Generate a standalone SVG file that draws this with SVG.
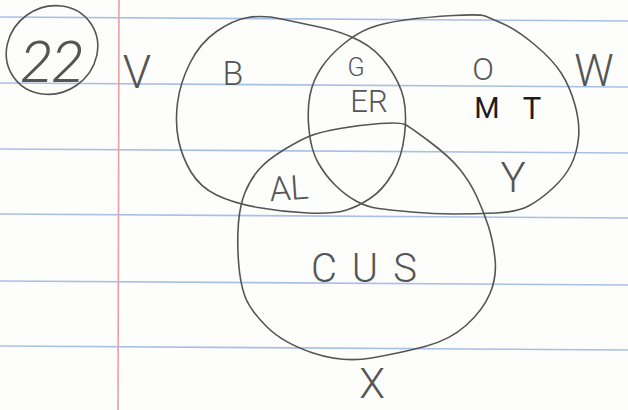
<svg xmlns="http://www.w3.org/2000/svg" width="628" height="410" viewBox="0 0 628 410">
<style>
.rule{stroke:#a9c0e6;stroke-width:1.6;fill:none}
.margin{stroke:#ec9ea6;stroke-width:1.6;fill:none}
.set{fill:none;stroke:#555;stroke-width:1.6;stroke-linejoin:round}
.lbl{font-family:Roboto,"Liberation Sans",sans-serif;font-weight:300;fill:#555;text-anchor:middle}
.dark{fill:#1e1e1e;font-weight:400}
</style>
<rect width="628" height="410" fill="#fdfdfc"/>
<g id="paper">
<path class="rule" d="M0,17 L628,21"/>
<path class="rule" d="M0,83 L628,87"/>
<path class="rule" d="M0,149 L628,153"/>
<path class="rule" d="M0,214 L628,218"/>
<path class="rule" d="M0,281 L628,285"/>
<path class="rule" d="M0,346 L628,350"/>
<path class="margin" d="M119,0 L118,410"/>
</g>
<g id="problem-number">
<ellipse class="set" cx="52" cy="50" rx="47" ry="43" transform="rotate(-35 52 50)"/>
<text class="lbl" x="52" y="82" font-size="58" font-style="italic">22</text>
</g>
<g id="connectors"></g>
<g id="set-V">
<path class="set" d="M248,17.5 Q263,15 281.5,19 Q300,23 321.5,27.5 Q343,32 360,41 Q377,50 388.5,66.5 Q400,83 403.5,98 Q407,113 404.5,135 Q402,157 392.5,173.5 Q383,190 370,198.5 Q357,207 345,210.5 Q333,214 308,213 Q283,212 258,207.5 Q233,203 216.5,195 Q200,187 191,172 Q182,157 178.5,140 Q175,123 177.5,103 Q180,83 190,63 Q200,43 216.5,31.5 Q233,20 248,17.5 Z"/>
<text class="lbl" x="137" y="88" font-size="46">V</text>
</g>
<g id="set-W">
<path class="set" d="M321.5,67.5 Q330,55 343.5,44 Q357,33 370,28 Q383,23 405,20 Q427,17 453.5,15.5 Q480,14 485,16 Q490,18 503.5,24 Q517,30 535,45 Q553,60 561.5,73.5 Q570,87 575,105 Q580,123 578.5,138 Q577,153 571,165 Q565,177 552.5,188.5 Q540,200 528.5,206 Q517,212 496,213 Q475,214 454,214 Q433,214 411.5,212 Q390,210 378.5,208.5 Q367,207 356,201 Q345,195 335,185 Q325,175 318,162.5 Q311,150 309,130 Q307,110 310,95 Q313,80 321.5,67.5 Z"/>
<text class="lbl" x="594" y="86" font-size="44" text-anchor="start">W</text>
</g>
<g id="set-X">
<path class="set" d="M238.5,222.5 Q240,205 245,192.5 Q250,180 258.5,170 Q267,160 283.5,150 Q300,140 310,136 Q320,132 340,128.5 Q360,125 380,123.5 Q400,122 405,124.5 Q410,127 430,142 Q450,157 460,169.5 Q470,182 476.5,196 Q483,210 488,225 Q493,240 495,258.5 Q497,277 490,293.5 Q483,310 466.5,325 Q450,340 425,346.5 Q400,353 371.5,358 Q343,363 313,353 Q283,343 266.5,326.5 Q250,310 245,296.5 Q240,283 238.5,261.5 Q237,240 238.5,222.5 Z"/>
<text class="lbl" x="372" y="398" font-size="42">X</text>
</g>
<g id="region-B"><text class="lbl" x="233" y="85" font-size="34">B</text></g>
<g id="region-G"><text class="lbl" x="356" y="76" font-size="25">G</text></g>
<g id="region-ER"><text class="lbl" x="369" y="112" font-size="31">ER</text></g>
<g id="region-O"><text class="lbl" x="483" y="80" font-size="32">O</text></g>
<g id="region-MT"><text class="lbl dark" x="487" y="118" font-size="29">M</text><text class="lbl dark" x="532" y="119" font-size="31">T</text></g>
<g id="region-AL"><text class="lbl" x="289" y="200" font-size="34" transform="rotate(-4 289 190)">AL</text></g>
<g id="region-Y"><text class="lbl" x="513" y="192" font-size="42">Y</text></g>
<g id="region-CUS"><text class="lbl" x="324 365 405" y="282" font-size="40">CUS</text></g>
</svg>
